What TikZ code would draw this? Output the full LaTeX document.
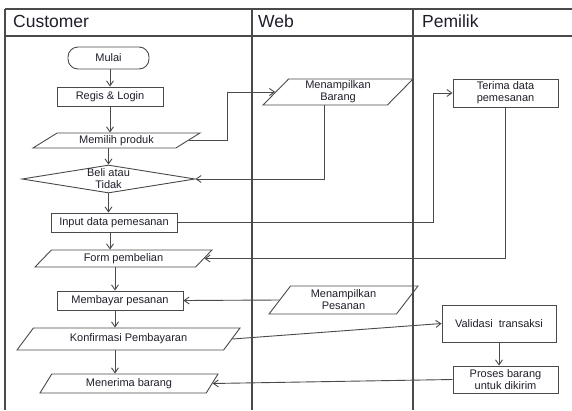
\documentclass[tikz,border=0pt]{standalone}
\usepackage{fontspec}
\setmainfont{Liberation Sans}
\usetikzlibrary{shapes.geometric,arrows.meta}
\definecolor{garis}{HTML}{4A4A4A}
\definecolor{teks}{HTML}{1E1E2A}

\begin{document}
\begin{tikzpicture}[x=1pt,y=-1pt,
  every node/.style={font=\fontsize{11}{12}\selectfont,text=teks,inner sep=0pt},
  lane/.style={draw=garis,line width=1.2pt},
  term/.style={draw=garis,line width=0.9pt,rectangle,rounded corners=10pt,minimum width=81pt,minimum height=22pt},
  proc/.style={draw=garis,line width=0.9pt,rectangle,align=center},
  io/.style={draw=garis,line width=0.9pt,trapezium,trapezium left angle=#1,trapezium right angle=180-#1,trapezium stretches body,align=center},
  dec/.style={draw=garis,line width=0.9pt,diamond,minimum width=173pt,minimum height=28pt},
  arr/.style={draw=garis,line width=0.9pt,-{Straight Barb[length=5pt,width=7pt]}},
  judul/.style={font=\fontsize{17.5}{20}\selectfont,anchor=base west}]
  \useasboundingbox (0,0) rectangle (572,410);
  % Swimlanes
  \draw[lane] (5,9) -- (572,9);
  \draw[lane] (5,36) -- (572,36);
  \draw[lane] (5,9) -- (5,410);
  \draw[lane] (252,9) -- (252,410);
  \draw[lane] (413,9) -- (413,410);
  \node[judul] (hcust) at (13,27.3) {Customer};
  \node[judul] (hweb) at (258,27.3) {Web};
  \node[judul] (hpem) at (422,27.3) {Pemilik};
  % Customer
  \node[term] (mulai) at (108.5,58) {Mulai};
  \node[proc,minimum width=106pt,minimum height=19pt] (regis) at (110,96.5) {Regis \& Login};
  \node[io=23,minimum width=167pt,minimum height=15pt] (memilih) at (116.5,140.5) {Memilih produk};
  \node[dec] (beli) at (108.5,179) {};
  \node[align=center] (belit) at (beli) {Beli atau\\Tidak};
  \node[proc,minimum width=126pt,minimum height=19pt] (input) at (114,222.5) {Input data pemesanan};
  \node[io=32,minimum width=177pt,minimum height=17pt] (form) at (123.5,258.5) {Form pembelian};
  \node[proc,minimum width=126pt,minimum height=19pt] (bayar) at (120,300.5) {Membayar pesanan};
  \node[io=32,minimum width=223pt,minimum height=22pt] (konfirmasi) at (128.5,339) {Konfirmasi Pembayaran};
  \node[io=41,minimum width=178pt,minimum height=19pt] (menerima) at (129,383.5) {Menerima barang};
  % Web
  \node[io=41,minimum width=150pt,minimum height=26pt] (barang) at (338,92) {Menampilkan\\Barang};
  \node[io=43,minimum width=149pt,minimum height=28pt] (pesanan) at (343.5,300) {Menampilkan\\Pesanan};
  % Pemilik
  \node[proc,minimum width=105pt,minimum height=28pt] (terimadata) at (505.5,93) {Terima data\\pemesanan};
  \node[proc,minimum width=114pt,minimum height=37pt] (validasi) at (499,323.5) {Validasi~ transaksi};
  \node[proc,minimum width=105pt,minimum height=27pt] (proses) at (505.5,379.5) {Proses barang\\untuk dikirim};
  % Alur
  \coordinate (colA) at (110,0);
  \coordinate (colB) at (115,0);
  \coordinate (belok1) at (227,0);
  \coordinate (belok2) at (433,0);
  \draw[arr] (mulai.south -| colA) -- (regis.north -| colA);
  \draw[arr] (regis.south -| colA) -- (memilih.north -| colA);
  \draw[arr] (memilih.south -| beli.north) -- (beli.north);
  \draw[arr] (beli.south) -- (beli.south |- input.north);
  \draw[arr] (input.south -| colA) -- (form.north -| colA);
  \draw[arr] (form.south -| colB) -- (bayar.north -| colB);
  \draw[arr] (bayar.south -| colB) -- (konfirmasi.north -| colB);
  \draw[arr] (konfirmasi.south -| colB) -- (menerima.north -| colB);
  \draw[arr] (memilih.right side) -| (belok1 |- barang.left side) -- (barang.left side);
  \draw[arr] (barang.bottom side) |- (beli.east);
  \draw[arr] (input.east) -| (belok2 |- terimadata.west) -- (terimadata.west);
  \draw[arr] (terimadata.south) |- (form.right side);
  \draw[arr] (pesanan.left side) -- (bayar.east);
  \draw[arr] (konfirmasi.right side) -- (validasi.west);
  \draw[arr] (validasi.south) -- (validasi.south |- proses.north);
  \draw[arr] (proses.west) -- (menerima.right side);
\end{tikzpicture}
\end{document}
